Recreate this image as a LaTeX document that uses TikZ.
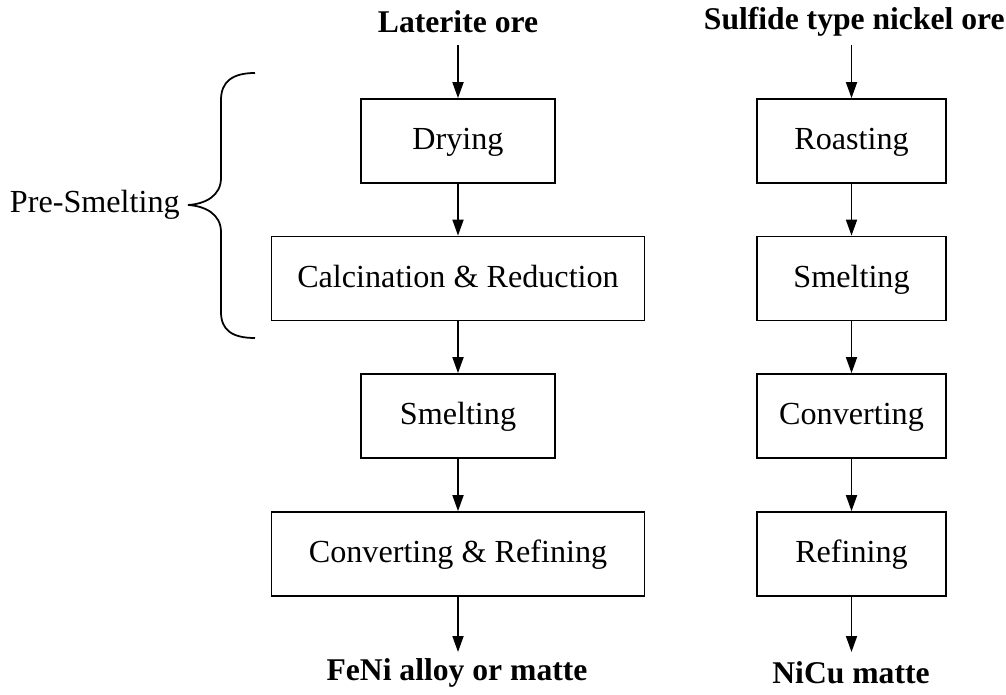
\documentclass[tikz,border=0pt]{standalone}
\usepackage{fontspec}
\setmainfont{Liberation Serif}
\usetikzlibrary{arrows.meta,positioning}
\tikzset{>={Triangle[length=3.2mm,width=2.2mm]},every node/.style={font=\fontsize{18.3}{22}\selectfont},
 stage/.style={draw,line width=1pt,minimum height=1.68cm,align=center,inner sep=0pt,
 text height=14pt,text depth=4pt},
 ore/.style={font=\fontsize{18}{22}\selectfont\bfseries},flow/.style={draw,line width=1pt,->}}

\begin{document}
\begin{tikzpicture}[x=0.02cm,y=-0.02cm]
\useasboundingbox (0,0) rectangle (1006,695);
% laterite route
\node[ore] (lat) at (458,22){Laterite ore};
\node[stage,minimum width=3.88cm] (dry) at (458,141){Drying};
\node[stage,minimum width=7.46cm] (calc) at (458,278.5){Calcination \& Reduction};
\node[stage,minimum width=3.88cm] (smeltA) at (458,416){Smelting};
\node[stage,minimum width=7.46cm] (convA) at (458,554){Converting \& Refining};
\node[ore] (feni) at (457,673){FeNi alloy or matte};
\coordinate (latin) at (458,45);\coordinate (latout) at (458,652);
\path (latin) edge[flow] (dry) (dry) edge[flow] (calc) (calc) edge[flow] (smeltA)
 (smeltA) edge[flow] (convA) (convA) edge[flow] (latout);
% sulfide route
\node[ore,anchor=east,inner sep=0pt] (sul) at (1005,22){Sulfide type nickel ore};
\node[stage,minimum width=3.78cm] (roast) at (851.5,141){Roasting};
\node[stage,minimum width=3.78cm] (smeltB) at (851.5,278.5){Smelting};
\node[stage,minimum width=3.78cm] (convB) at (851.5,416){Converting};
\node[stage,minimum width=3.78cm] (refB) at (851.5,554){Refining};
\node[ore] (nicu) at (851,673){NiCu matte};
\coordinate (sulin) at (851.5,45);\coordinate (sulout) at (851.5,652);
\path (sulin) edge[flow] (roast) (roast) edge[flow] (smeltB) (smeltB) edge[flow] (convB)
 (convB) edge[flow] (refB) (refB) edge[flow] (sulout);
% pre-smelting brace
\node[anchor=base east,inner sep=0pt] (pre) at (180,213){Pre-Smelting};
\draw[line width=1pt] (255,73) .. controls (232,73) and (221,82) .. (221,100) -- (221,178)
 .. controls (221,196) and (205,204) .. (188,205) .. controls (205,206) and (221,214) .. (221,232)
 -- (221,312) .. controls (221,330) and (232,338) .. (255,338);
\end{tikzpicture}
\end{document}
